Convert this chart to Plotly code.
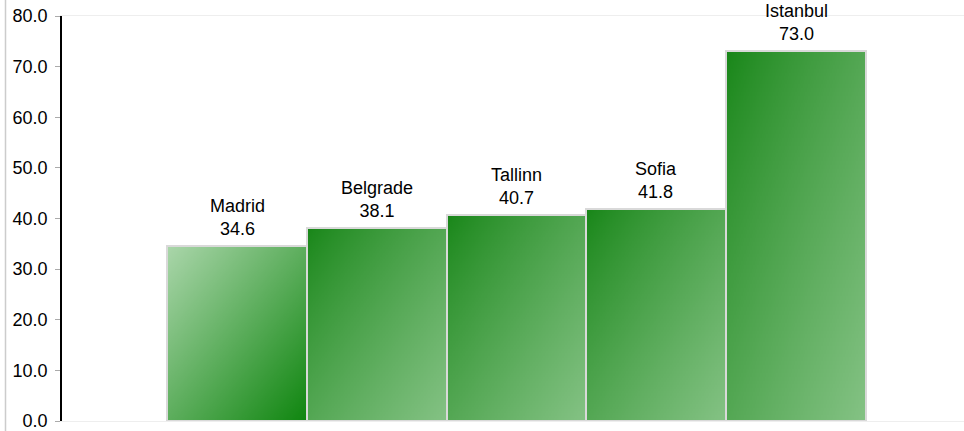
import base64
import struct
import zlib

import plotly.graph_objects as go

# ---- data ----
cities = ["Madrid", "Belgrade", "Tallinn", "Sofia", "Istanbul"]
values = [34.6, 38.1, 40.7, 41.8, 73.0]
positions = [0, 1, 2, 3, 4]
tick_vals = [0, 10, 20, 30, 40, 50, 60, 70, 80]
tick_text = ["0.0", "10.0", "20.0", "30.0", "40.0", "50.0", "60.0", "70.0", "80.0"]
highlight = ["Madrid"]

# ---- styles ----
FONT = "Liberation Sans, Arial, sans-serif"
DARK = (24, 134, 24)
LIGHT = (132, 194, 132)
HL_LIGHT = (170, 214, 170)
HL_DARK = (16, 134, 16)


def _chunk(tag, data):
    return (struct.pack(">I", len(data)) + tag + data
            + struct.pack(">I", zlib.crc32(tag + data) & 0xFFFFFFFF))


def gradient_uri(c0, c1, n=96, gamma=0.85):
    rows = []
    for j in range(n):
        row = bytearray([0])
        for i in range(n):
            t = ((i + j) / (2 * (n - 1))) ** gamma
            row += bytes(int(round(c0[k] + (c1[k] - c0[k]) * t)) for k in range(3))
        rows.append(bytes(row))
    raw = b"".join(rows)
    png = (b"\x89PNG\r\n\x1a\n"
           + _chunk(b"IHDR", struct.pack(">IIBBBBB", n, n, 8, 2, 0, 0, 0))
           + _chunk(b"IDAT", zlib.compress(raw, 9))
           + _chunk(b"IEND", b""))
    return "data:image/png;base64," + base64.b64encode(png).decode()


normal_grad = gradient_uri(DARK, LIGHT)
hl_grad = gradient_uri(HL_LIGHT, HL_DARK, gamma=1.0)

fig = go.Figure()
fig.add_trace(go.Bar(
    x=positions, y=values, width=1.0,
    marker=dict(color="rgba(0,0,0,0)", line=dict(color="#d9d9d9", width=2)),
    hoverinfo="skip", showlegend=False,
))

images = []
for c, x, v in zip(cities, positions, values):
    images.append(dict(
        source=hl_grad if c in highlight else normal_grad,
        xref="x", yref="y", x=x - 0.5, y=v, sizex=1.0, sizey=v,
        xanchor="left", yanchor="top", sizing="stretch", layer="below",
    ))

annotations = []
for c, x, v in zip(cities, positions, values):
    annotations.append(dict(
        x=x, y=v, xref="x", yref="y", text=f"{c}<br>{v:.1f}",
        showarrow=False, yanchor="bottom", yshift=5,
        font=dict(family=FONT, size=18, color="#000000"),
    ))

unit = 139.75
x0 = -(237 - 62) / unit
x1 = x0 + 902 / unit

fig.update_layout(
    width=964, height=431,
    margin=dict(l=62, r=0, t=16, b=10, pad=0),
    paper_bgcolor="white", plot_bgcolor="rgba(0,0,0,0)",
    bargap=0,
    images=images,
    annotations=annotations,
    shapes=[dict(type="line", xref="paper", yref="paper",
                 x0=(5.5 - 62) / 902, x1=(5.5 - 62) / 902,
                 y0=-10 / 405, y1=1 + 16 / 405,
                 line=dict(color="#cccccc", width=1.5))],
    xaxis=dict(range=[x0, x1], showticklabels=False, ticks="", showgrid=False,
               zeroline=False, showline=True, mirror=True,
               linecolor="#eeeeee", linewidth=1),
    yaxis=dict(range=[0, 80], tickvals=tick_vals, ticktext=tick_text,
               showgrid=False, zeroline=False, showline=True,
               linecolor="#000000", linewidth=1.5,
               ticks="outside", ticklen=5, tickcolor="#aaaaaa", tickwidth=1,
               ticklabelstandoff=4, ticklabeloverflow="allow",
               tickfont=dict(family=FONT, size=18, color="#000000")),
)

fig.write_html(
    "out.html",
    config={"displayModeBar": False},
    post_script="document.body.style.margin='0';document.body.style.overflow='hidden';",
)
